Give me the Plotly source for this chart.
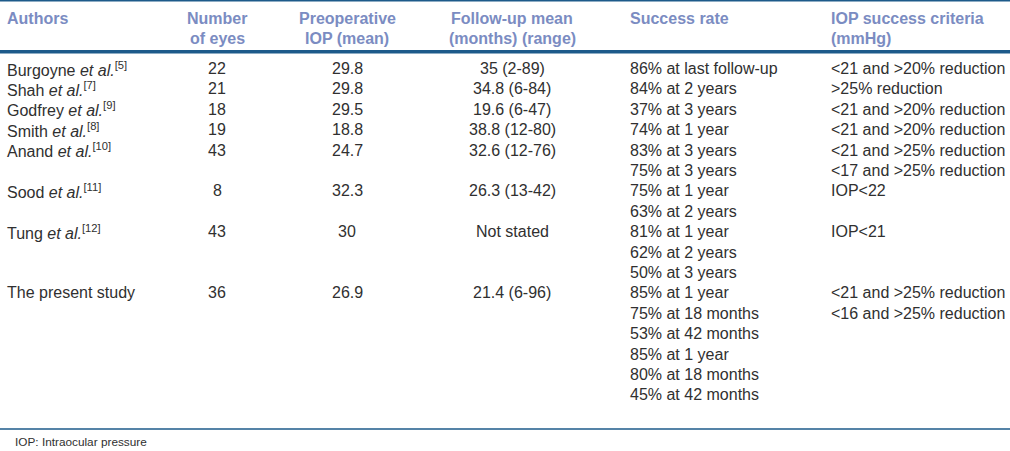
import plotly.graph_objects as go

# ---- data ----
headers = ["Authors", "Number<br>of eyes", "Preoperative<br>IOP (mean)",
           "Follow-up mean<br>(months) (range)", "Success rate",
           "IOP success criteria<br>(mmHg)"]
authors = ["Burgoyne", "Shah", "Godfrey", "Smith", "Anand", "Sood", "Tung",
           "The present study"]
refs = [5, 7, 9, 8, 10, 11, 12, None]
eyes = [22, 21, 18, 19, 43, 8, 43, 36]
iop = ["29.8", "29.8", "29.5", "18.8", "24.7", "32.3", "30", "26.9"]
followup = ["35 (2-89)", "34.8 (6-84)", "19.6 (6-47)", "38.8 (12-80)",
            "32.6 (12-76)", "26.3 (13-42)", "Not stated", "21.4 (6-96)"]
success = [
    ["86% at last follow-up"],
    ["84% at 2 years"],
    ["37% at 3 years"],
    ["74% at 1 year"],
    ["83% at 3 years", "75% at 3 years"],
    ["75% at 1 year", "63% at 2 years"],
    ["81% at 1 year", "62% at 2 years", "50% at 3 years"],
    ["85% at 1 year", "75% at 18 months", "53% at 42 months",
     "85% at 1 year", "80% at 18 months", "45% at 42 months"],
]
criteria = [
    ["<21 and >20% reduction"],
    [">25% reduction"],
    ["<21 and >20% reduction"],
    ["<21 and >20% reduction"],
    ["<21 and >25% reduction", "<17 and >25% reduction"],
    ["IOP<22"],
    ["IOP<21"],
    ["<21 and >25% reduction", "<16 and >25% reduction"],
]
footnote = "IOP: Intraocular pressure"

# ---- layout constants ----
W, H = 1010, 451
FONT = "Liberation Sans, Arial, sans-serif"
HEAD_COLOR = "#7b8cc2"
BODY_COLOR = "#303030"
LINE_COLOR = "#1d5a8a"
col_x = [5, 217, 347, 512, 628, 829]
col_anchor = ["left", "center", "center", "center", "left", "left"]
header_y = 18
header_gap = 20
row_y0 = 68.5
row_gap = 20.4
FS = 16
HFS = 16


def esc(s):
    return s.replace("<", "&lt;").replace(">", "&gt;")


fig = go.Figure()
fig.add_trace(go.Scatter(x=[0, W], y=[0, H], mode="markers",
                         marker=dict(opacity=0), hoverinfo="skip",
                         showlegend=False))

ann = []
for i, h in enumerate(headers):
    for j, part in enumerate(h.split("<br>")):
        ann.append(dict(x=col_x[i], y=header_y + j * header_gap,
                        text="<b>" + part + "</b>", xanchor=col_anchor[i],
                        yanchor="middle", showarrow=False,
                        font=dict(family=FONT, size=HFS, color=HEAD_COLOR)))

line = 0
for k in range(len(authors)):
    y = row_y0 + line * row_gap
    if refs[k] is None:
        name = authors[k]
    else:
        name = authors[k] + " <i>et al.</i><sup>[" + str(refs[k]) + "]</sup>"
    cells = [name, str(eyes[k]), iop[k], followup[k]]
    for c, txt in enumerate(cells):
        ann.append(dict(x=col_x[c], y=y, text=txt, xanchor=col_anchor[c],
                        yanchor="middle", showarrow=False,
                        font=dict(family=FONT, size=FS, color=BODY_COLOR)))
    for j, s in enumerate(success[k]):
        ann.append(dict(x=col_x[4], y=y + j * row_gap, text=esc(s),
                        xanchor="left", yanchor="middle", showarrow=False,
                        font=dict(family=FONT, size=FS, color=BODY_COLOR)))
    for j, s in enumerate(criteria[k]):
        ann.append(dict(x=col_x[5], y=y + j * row_gap, text=esc(s),
                        xanchor="left", yanchor="middle", showarrow=False,
                        font=dict(family=FONT, size=FS, color=BODY_COLOR)))
    line += max(len(success[k]), len(criteria[k]))

ann.append(dict(x=13, y=442, text=footnote, xanchor="left", yanchor="middle",
                showarrow=False,
                font=dict(family=FONT, size=11.8, color=BODY_COLOR)))

shapes = [
    dict(type="line", x0=0, x1=W, y0=0.8, y1=0.8,
         line=dict(color=LINE_COLOR, width=1.6)),
    dict(type="line", x0=0, x1=W, y0=51.8, y1=51.8,
         line=dict(color=LINE_COLOR, width=3.4)),
    dict(type="line", x0=0, x1=W, y0=429, y1=429,
         line=dict(color=LINE_COLOR, width=1.5)),
]

fig.update_layout(
    width=W, height=H, margin=dict(l=0, r=0, t=0, b=0),
    paper_bgcolor="white", plot_bgcolor="white",
    xaxis=dict(range=[0, W], visible=False, fixedrange=True),
    yaxis=dict(range=[H, 0], visible=False, fixedrange=True),
    annotations=ann, shapes=shapes, showlegend=False,
)
fig.write_html("out.html", config={"displayModeBar": False},
               post_script="document.body.style.margin='0';"
                           "document.body.style.overflow='hidden';")
